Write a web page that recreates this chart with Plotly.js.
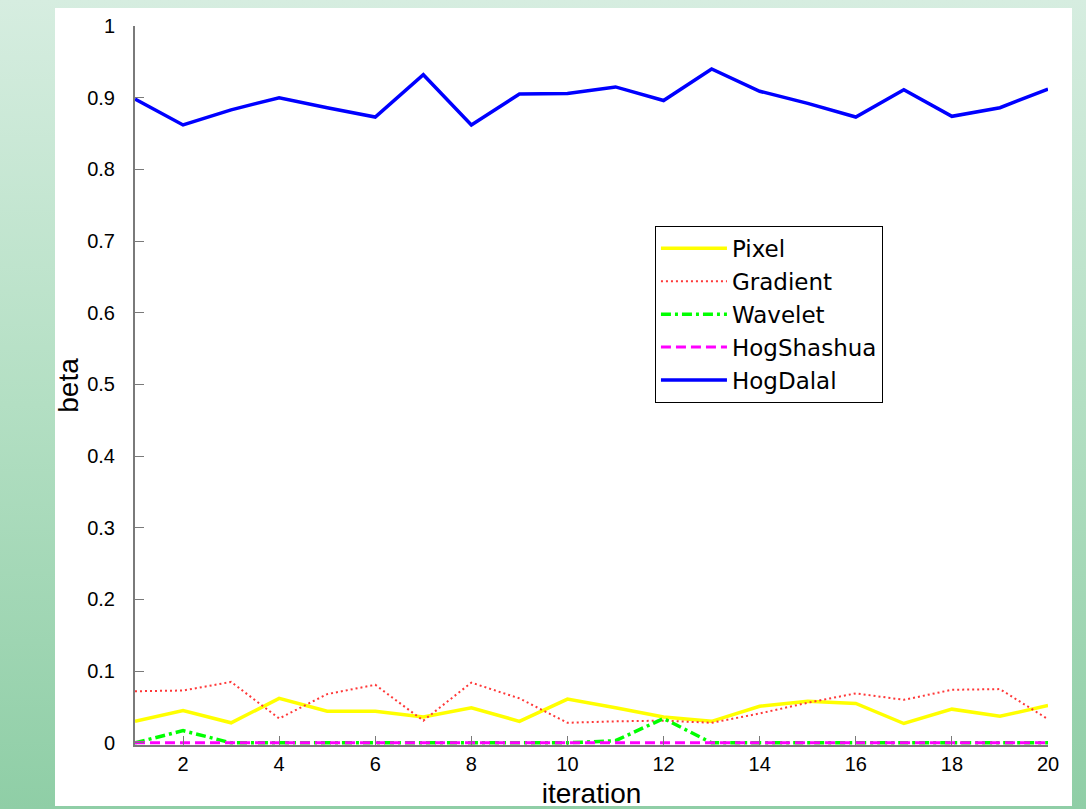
<!DOCTYPE html>
<html>
<head>
<meta charset="utf-8">
<script src="https://cdn.plot.ly/plotly-3.0.1.min.js"></script>
<style>
  html, body { margin: 0; padding: 0; }
  body {
    width: 1086px; height: 809px; overflow: hidden; position: relative;
    background: linear-gradient(to bottom, #d6ede0 0%, #b3dfc3 50%, #8fcea6 100%);
  }
  #sheet { position: absolute; left: 55px; top: 8px; width: 1017px; height: 798px; background: #ffffff; }
  #chart { position: absolute; left: 0; top: 0; width: 1086px; height: 809px; }
</style>
</head>
<body>
<div id="sheet"></div>
<div id="chart"></div>
<script>
const iterations = [1,2,3,4,5,6,7,8,9,10,11,12,13,14,15,16,17,18,19,20];
const pixel     = [0.030,0.045,0.028,0.062,0.044,0.044,0.036,0.049,0.030,0.061,0.049,0.036,0.030,0.051,0.058,0.055,0.027,0.047,0.037,0.052];
const gradient  = [0.072,0.073,0.085,0.034,0.068,0.081,0.031,0.084,0.062,0.028,0.030,0.031,0.028,0.041,0.056,0.069,0.060,0.074,0.075,0.033];
const wavelet   = [0,0.017,0,0,0,0,0,0,0,0,0.003,0.034,0,0,0,0,0,0,0,0];
const hogShashua= [0,0,0,0,0,0,0,0,0,0,0,0,0,0,0,0,0,0,0,0];
const hogDalal  = [0.898,0.862,0.883,0.900,0.886,0.873,0.932,0.862,0.905,0.906,0.915,0.896,0.940,0.909,0.892,0.873,0.911,0.874,0.886,0.912];
const xTicks = [2,4,6,8,10,12,14,16,18,20];
const yTicks = [0,0.1,0.2,0.3,0.4,0.5,0.6,0.7,0.8,0.9,1];
const yTickText = ['0','0.1','0.2','0.3','0.4','0.5','0.6','0.7','0.8','0.9','1'];

const traces = [
  {name:'Pixel', x: iterations, y: pixel, mode:'lines', line:{color:'#ffff00', width:3.5}},
  {name:'Gradient', x: iterations, y: gradient, mode:'lines', line:{color:'#ff3838', width:2, dash:'2px,3px'}},
  {name:'Wavelet', x: iterations, y: wavelet, mode:'lines', line:{color:'#00ff00', width:3.5, dash:'10px,4px,3px,4px'}},
  {name:'HogShashua', x: iterations, y: hogShashua, mode:'lines', line:{color:'#ff00ff', width:3, dash:'10px,5px'}},
  {name:'HogDalal', x: iterations, y: hogDalal, mode:'lines', line:{color:'#0000ff', width:3.5}}
];

const layout = {
  width: 1086, height: 809,
  paper_bgcolor: 'rgba(0,0,0,0)',
  plot_bgcolor: 'rgba(0,0,0,0)',
  margin: {l:135, r:38, t:26, b:64},
  font: {family: 'Liberation Sans, Arial, sans-serif', color: '#000'},
  showlegend: true,
  legend: {
    x: 0.5695, y: 0.722, xanchor: 'left', yanchor: 'top',
    bgcolor: '#ffffff', bordercolor: '#000000', borderwidth: 1,
    font: {size: 23, family: 'DejaVu Sans, Liberation Sans, sans-serif', color:'#000'},
    itemwidth: 66,
    tracegroupgap: 0
  },
  xaxis: {
    range: [1, 20], tickvals: xTicks, ticktext: xTicks.map(String),
    showgrid: false, zeroline: false, showline: true, linecolor: '#7a7a7a', linewidth: 2,
    ticks: 'inside', ticklen: 9, tickcolor: '#7a7a7a',
    tickfont: {size: 20}, ticklabelstandoff: 0,
    title: {text: 'iteration', font: {size: 28}, standoff: 10}
  },
  yaxis: {
    range: [-0.003, 1], tickvals: yTicks, ticktext: yTickText,
    showgrid: false, zeroline: false, showline: true, linecolor: '#7a7a7a', linewidth: 2,
    ticks: 'inside', ticklen: 9, tickcolor: '#7a7a7a',
    tickfont: {size: 20}, ticklabelstandoff: 14,
    title: {text: 'beta', font: {size: 28}, standoff: 0}
  }
};

Plotly.newPlot('chart', traces, layout, {displayModeBar: false, staticPlot: true});
</script>
</body>
</html>
